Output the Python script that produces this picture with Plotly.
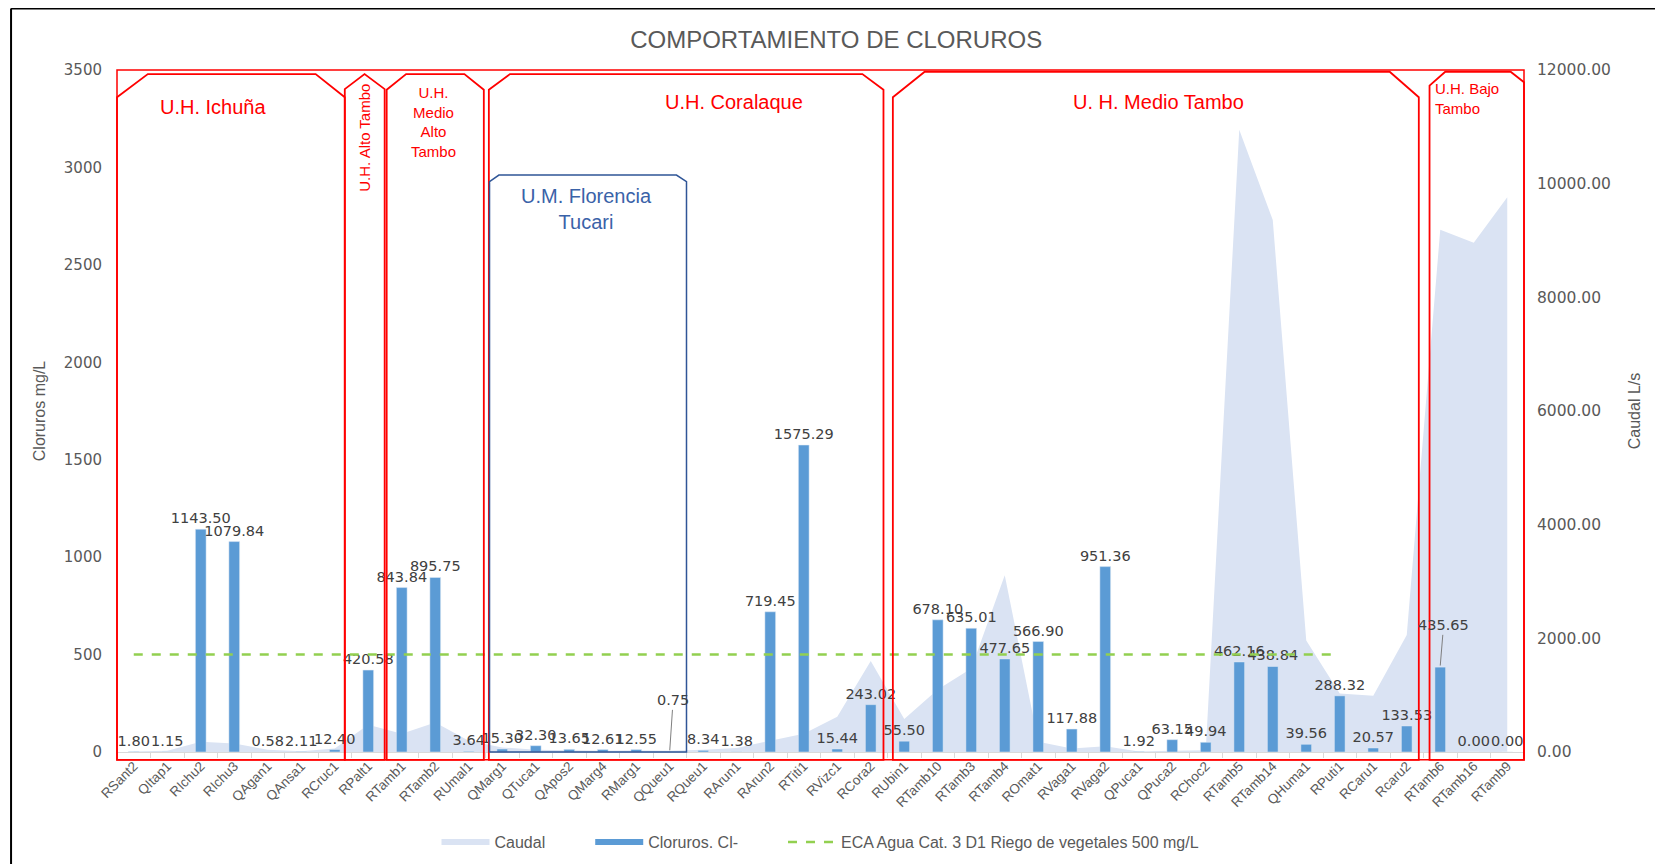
import plotly.graph_objects as go

categories = ["RSant2", "QItap1", "RIchu2", "RIchu3", "QAgan1", "QAnsa1", "RCruc1",
              "RPalt1", "RTamb1", "RTamb2", "RUmal1", "QMarg1", "QTuca1", "QApos2",
              "QMarg4", "RMarg1", "QQueu1", "RQueu1", "RArun1", "RArun2", "RTiti1",
              "RVizc1", "RCora2", "RUbin1", "RTamb10", "RTamb3", "RTamb4", "ROmat1",
              "RVaga1", "RVaga2", "QPuca1", "QPuca2", "RChoc2", "RTamb5", "RTamb14",
              "QHuma1", "RPuti1", "RCaru1", "Rcaru2", "RTamb6", "RTamb16", "RTamb9"]

cloruros = [1.80, 1.15, 1143.50, 1079.84, 0.58, 2.11, 12.40, 420.58, 843.84, 895.75,
            3.64, 15.30, 32.30, 13.65, 12.61, 12.55, 0.75, 8.34, 1.38, 719.45, 1575.29,
            15.44, 243.02, 55.50, 678.10, 635.01, 477.65, 566.90, 117.88, 951.36, 1.92,
            63.15, 49.94, 462.16, 438.84, 39.56, 288.32, 20.57, 133.53, 435.65, 0.00, 0.00]

caudal = [10, 20, 180, 150, 40, 15, 60, 480, 320, 520, 200, 80, 40, 30, 20, 25, 20, 40,
          70, 200, 320, 620, 1600, 580, 1100, 1470, 3110, 180, 60, 100, 10, 20, 30,
          10950, 9360, 1960, 1030, 990, 2060, 9190, 8960, 9760]

eca = [500] * 37 + [None] * 5

# labels shown with leader lines instead of directly above their bars
leader_labels = {16: 265, 39: 650}

N = len(categories)
num_font = "DejaVu Sans, Verdana, sans-serif"
narrow_font = "Liberation Sans Narrow, Arial Narrow, Liberation Sans, sans-serif"
grey = "#595959"
bar_color = "#5B9BD5"
legend_pad = "\u00a0" * 9  # extra gap between legend entries

bar_text = ["" if i in leader_labels else f"{v:.2f}" for i, v in enumerate(cloruros)]

fig = go.Figure()
fig.add_trace(go.Scatter(
    x=categories, y=caudal, name="Caudal" + legend_pad, mode="none", fill="tozeroy",
    fillcolor="#DAE3F3", yaxis="y", legendrank=1))
fig.add_trace(go.Bar(
    x=categories, y=cloruros, name="Cloruros. Cl-", marker_color=bar_color,
    text=bar_text, textposition="outside", constraintext="none", cliponaxis=False,
    textfont=dict(family=num_font, size=14.5, color="#404040"), yaxis="y2",
    showlegend=False, legendgroup="cl"))
# legend swatch (wide rectangle) for the bar series
fig.add_trace(go.Scatter(
    x=[None], y=[None], name="Cloruros. Cl-" + legend_pad, mode="none", fill="toself",
    fillcolor=bar_color, yaxis="y2", legendgroup="cl", legendrank=2, hoverinfo="skip"))
fig.add_trace(go.Scatter(
    x=categories, y=eca, name="ECA Agua Cat. 3 D1 Riego de vegetales 500 mg/L",
    mode="lines", line=dict(color="#92D050", width=2.5, dash="dash"), yaxis="y2",
    legendrank=3))


def px(c):
    return (c + 0.5) / N


def py(u):
    return u / 3500.0


def path(points):
    return "M " + " L ".join(f"{px(c):.5f},{py(u):.5f}" for c, u in points) + " Z"


red = "#FF0000"
boxes = [
    [(-0.5, -40), (-0.5, 3360), (0.42, 3479), (5.43, 3479), (6.3, 3360), (6.3, -40)],
    [(6.3, -40), (6.3, 3402), (6.89, 3479), (7.49, 3402), (7.49, -40)],
    [(7.55, -40), (7.55, 3399), (8.13, 3479), (9.87, 3479), (10.45, 3399), (10.45, -40)],
    [(10.6, -40), (10.6, 3399), (11.23, 3479), (21.75, 3479), (22.38, 3399), (22.38, -40)],
    [(22.66, -40), (22.66, 3360), (23.61, 3491), (37.49, 3491), (38.36, 3360), (38.36, -40)],
    [(38.68, -40), (38.68, 3420), (39.15, 3491), (41.1, 3491), (41.5, 3437), (41.5, -40)],
]
shapes = []
shapes.append(dict(type="rect", xref="paper", yref="paper", x0=px(-0.5), x1=px(41.5),
                   y0=py(-40), y1=1.0, line=dict(color=red, width=1.5)))
for b in boxes:
    shapes.append(dict(type="path", xref="paper", yref="paper", path=path(b),
                       line=dict(color=red, width=1.8)))
blue_box = [(10.62, 0), (10.62, 2927), (10.9, 2961), (16.2, 2961), (16.5, 2927), (16.5, 0)]
shapes.append(dict(type="path", xref="paper", yref="paper", path=path(blue_box),
                   line=dict(color="#2F5597", width=1.5)))
# outer black frame of the pasted image
shapes.append(dict(type="line", xref="paper", yref="paper", x0=-0.0753, x1=-0.0753,
                   y0=1.09, y1=-0.3, line=dict(color="black", width=2)))
shapes.append(dict(type="line", xref="paper", yref="paper", x0=-0.0753, x1=1.2,
                   y0=1.09, y1=1.09, line=dict(color="black", width=2)))

group_font = "Liberation Sans, Arial, sans-serif"
annotations = [
    dict(x=2.38, y=3310, text="U.H. Ichuña", font=dict(color=red, size=20, family=group_font)),
    dict(x=6.9, y=3152, text="U.H. Alto Tambo", textangle=-90,
         font=dict(color=red, size=15, family=group_font)),
    dict(x=8.96, y=3234, text="U.H.<br>Medio<br>Alto<br>Tambo",
         font=dict(color=red, size=15, family=group_font)),
    dict(x=17.92, y=3337, text="U.H. Coralaque", font=dict(color=red, size=20, family=group_font)),
    dict(x=13.52, y=2787, text="U.M. Florencia<br>Tucari",
         font=dict(color="#3A62A8", size=20, family=group_font)),
    dict(x=30.58, y=3337, text="U. H. Medio Tambo", font=dict(color=red, size=20, family=group_font)),
    dict(x=38.78, y=3355, text="U.H. Bajo<br>Tambo", xanchor="left", align="left",
         font=dict(color=red, size=15, family=group_font)),
]
for a in annotations:
    a.update(xref="x", yref="y2", showarrow=False)

for i, ty in leader_labels.items():
    annotations.append(dict(
        x=i, y=cloruros[i] + 8, xref="x", yref="y2", ax=i + 0.1, ay=ty, axref="x", ayref="y2",
        text=f"{cloruros[i]:.2f}", showarrow=True, arrowhead=0, arrowwidth=1,
        arrowcolor="#7F7F7F", font=dict(family=num_font, size=14.5, color="#404040")))

fig.update_layout(
    width=1663, height=864,
    paper_bgcolor="white", plot_bgcolor="white",
    margin=dict(l=109, r=147, t=62, b=120),
    title=dict(text="COMPORTAMIENTO DE CLORUROS", x=0.498, xanchor="center", y=0.963,
               yanchor="middle", font=dict(family=group_font, size=24, color=grey)),
    bargap=0.68,
    showlegend=True,
    legend=dict(orientation="h", x=0.5, xanchor="center", y=-0.132, yanchor="middle",
                font=dict(family=narrow_font, size=16, color=grey), itemwidth=48),
    xaxis=dict(type="category", tickangle=-45, tickfont=dict(family=narrow_font, size=13.5, color=grey),
               showline=True, linecolor="#D9D9D9", ticks="outside", tickson="boundaries",
               ticklen=5, tickcolor="#D9D9D9", showgrid=False, range=[-0.5, 41.5]),
    yaxis=dict(side="right", range=[0, 12000], dtick=2000, tickformat=".2f", showgrid=False,
               zeroline=False, tickfont=dict(family=num_font, size=15.5, color=grey),
               ticklabelstandoff=12,
               title=dict(text="Caudal L/s", standoff=18,
                          font=dict(family=narrow_font, size=16, color=grey))),
    yaxis2=dict(side="left", overlaying="y", range=[0, 3500], dtick=500, showgrid=False,
                zeroline=False, tickfont=dict(family=num_font, size=15, color=grey),
                ticklabelstandoff=14,
                title=dict(text="Cloruros mg/L", standoff=14,
                           font=dict(family=narrow_font, size=16, color=grey))),
    shapes=shapes,
    annotations=annotations,
)

fig.write_html("out.html")
